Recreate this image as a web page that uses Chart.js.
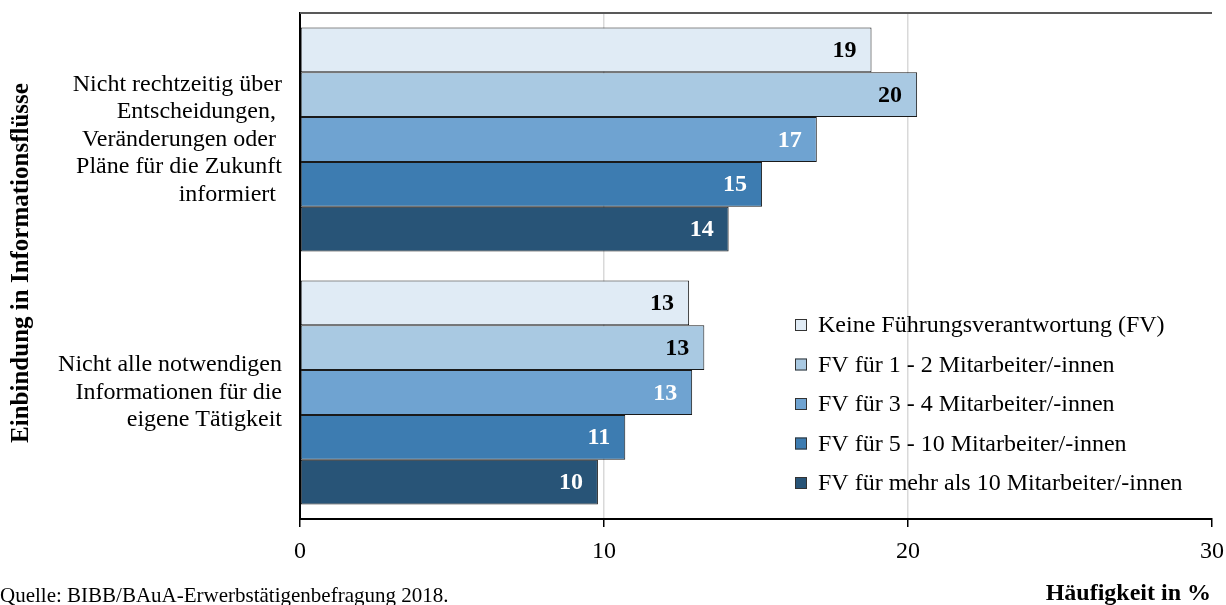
<!DOCTYPE html>
<html>
<head>
<meta charset="utf-8">
<script src="https://cdn.jsdelivr.net/npm/chart.js@4.4.1/dist/chart.umd.min.js"></script>
<style>
  html, body { margin: 0; padding: 0; background: #fff; }
  #wrap { width: 1226px; height: 605px; }
</style>
</head>
<body>
<div id="wrap"><canvas id="c" width="1226" height="605"></canvas></div>
<script>
// categories (multi-line labels, trailing spaces as in the original)
const categories = [
  ["Nicht rechtzeitig über", "Entscheidungen, ", "Veränderungen oder ", "Pläne für die Zukunft", "informiert "],
  ["Nicht alle notwendigen", "Informationen für die", "eigene Tätigkeit"]
];
const seriesLabels = [
  "Keine Führungsverantwortung (FV)",
  "FV für 1 - 2 Mitarbeiter/-innen",
  "FV für 3 - 4 Mitarbeiter/-innen",
  "FV für 5 - 10 Mitarbeiter/-innen",
  "FV für mehr als 10 Mitarbeiter/-innen"
];
// Häufigkeit in %
const keineFV = [18.8, 12.8];
const fv1bis2 = [20.3, 13.3];
const fv3bis4 = [17.0, 12.9];
const fv5bis10 = [15.2, 10.7];
const fvMehr10 = [14.1, 9.8];
const xTicks = [0, 10, 20, 30];

const colors = ["#e0ebf5", "#a9c9e2", "#6fa3d1", "#3d7cb1", "#285477"];
const labelColors = ["#000", "#000", "#fff", "#fff", "#fff"];
const serif = "'Liberation Serif', 'Times New Roman', serif";

const seriesValues = [keineFV, fv1bis2, fv3bis4, fv5bis10, fvMehr10];

const valueLabels = {
  id: "valueLabels",
  afterDatasetsDraw(chart) {
    const ctx = chart.ctx;
    ctx.save();
    ctx.font = "bold 24px " + serif;
    ctx.textAlign = "right";
    ctx.textBaseline = "middle";
    chart.data.datasets.forEach((ds, i) => {
      chart.getDatasetMeta(i).data.forEach((bar, j) => {
        ctx.fillStyle = labelColors[i];
        ctx.fillText(Math.round(ds.data[j]), bar.x - 15, bar.y + 1);
      });
    });
    ctx.restore();
  }
};

const extras = {
  id: "extras",
  afterDraw(chart) {
    const ctx = chart.ctx;
    const a = chart.chartArea;
    ctx.save();
    // top frame line
    ctx.strokeStyle = "#595959";
    ctx.lineWidth = 2;
    ctx.beginPath();
    ctx.moveTo(a.left, a.top);
    ctx.lineTo(a.right, a.top);
    ctx.stroke();

    // legend inside plot
    ctx.font = "24px " + serif;
    ctx.textBaseline = "middle";
    ctx.textAlign = "left";
    chart.data.datasets.forEach((ds, i) => {
      const y = 325 + i * 39.5;
      ctx.fillStyle = ds.backgroundColor;
      ctx.fillRect(795, y - 6, 12, 12);
      ctx.strokeStyle = "#333";
      ctx.lineWidth = 1;
      ctx.strokeRect(795.5, y - 5.5, 11, 11);
      ctx.fillStyle = "#000";
      ctx.fillText(ds.label, 818, y + 1);
    });

    // y axis title
    ctx.save();
    ctx.translate(22, 263);
    ctx.rotate(-Math.PI / 2);
    ctx.font = "bold 25px " + serif;
    ctx.textAlign = "center";
    ctx.textBaseline = "middle";
    ctx.fillText("Einbindung in Informationsflüsse", 0, 0);
    ctx.restore();

    // footer
    ctx.textBaseline = "alphabetic";
    ctx.font = "21px " + serif;
    ctx.textAlign = "left";
    ctx.fillText("Quelle: BIBB/BAuA-Erwerbstätigenbefragung 2018.", 0, 602);
    ctx.font = "bold 24px " + serif;
    ctx.textAlign = "right";
    ctx.fillText("Häufigkeit in %", 1211, 600);
    ctx.restore();
  }
};

new Chart(document.getElementById("c"), {
  type: "bar",
  data: {
    labels: categories,
    datasets: seriesLabels.map((label, i) => ({
      label: label,
      data: seriesValues[i],
      backgroundColor: colors[i],
      borderColor: "#1a1a1a",
      borderWidth: 1,
      borderSkipped: false,
      categoryPercentage: 0.885,
      barPercentage: 1
    }))
  },
  options: {
    indexAxis: "y",
    responsive: false,
    animation: false,
    devicePixelRatio: 1,
    layout: { padding: { left: 0, right: 14, top: 13, bottom: 0 } },
    plugins: {
      legend: { display: false },
      tooltip: { enabled: false }
    },
    scales: {
      x: {
        min: 0,
        max: 30,
        afterBuildTicks: (scale) => { scale.ticks = xTicks.map(v => ({ value: v })); },
        afterFit: (scale) => {
          scale.height = 86;
          scale.paddingLeft = 0;
          scale.paddingRight = 0;
        },
        ticks: {
          color: "#000",
          font: { family: serif, size: 24 },
          padding: 10
        },
        grid: {
          color: (c) => (c.tick && (c.tick.value === 10 || c.tick.value === 20)) ? "#d9d9d9" : "rgba(0,0,0,0)",
          lineWidth: 1.5,
          tickColor: "#000",
          tickLength: 8,
          drawTicks: true
        },
        border: { color: "#000", width: 2 }
      },
      y: {
        afterFit: (scale) => {
          scale.width = 300;
          scale.paddingTop = 0;
          scale.paddingBottom = 0;
        },
        ticks: {
          color: "#000",
          font: { family: serif, size: 24, lineHeight: 1.15 },
          padding: 10
        },
        grid: { display: false },
        border: { color: "#000", width: 2 }
      }
    }
  },
  plugins: [valueLabels, extras]
});
</script>
</body>
</html>
